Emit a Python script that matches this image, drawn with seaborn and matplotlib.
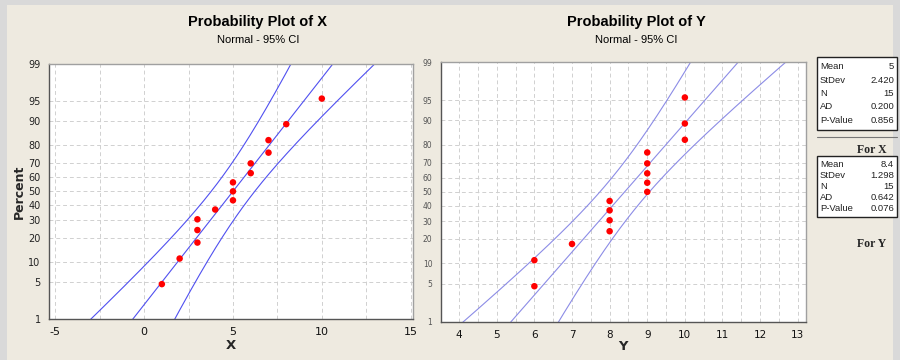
import numpy as np
import pandas as pd
import matplotlib
matplotlib.use("Agg")
import matplotlib.pyplot as plt
import seaborn as sns
from statistics import NormalDist
from matplotlib.patches import Rectangle

# ---------------- data ----------------
x_values = [1, 2, 3, 3, 3, 4, 5, 5, 5, 6, 6, 7, 7, 8, 10]
y_values = [6, 6, 7, 8, 8, 8, 8, 9, 9, 9, 9, 9, 10, 10, 10]
pct_ticks = [1, 5, 10, 20, 30, 40, 50, 60, 70, 80, 90, 95, 99]
x_ticks = [-5, 0, 5, 10, 15]
y_ticks = [4, 5, 6, 7, 8, 9, 10, 11, 12, 13]
stats_x = [("Mean", "5"), ("StDev", "2.420"), ("N", "15"), ("AD", "0.200"), ("P-Value", "0.856")]
stats_y = [("Mean", "8.4"), ("StDev", "1.298"), ("N", "15"), ("AD", "0.642"), ("P-Value", "0.076")]

nd = NormalDist()

def zq(p):
    return nd.inv_cdf(p / 100.0)

def prob_frames(vals):
    v = np.sort(np.asarray(vals, dtype=float))
    n = len(v)
    ranks = (np.arange(1, n + 1) - 0.3) / (n + 0.4) * 100
    pts = pd.DataFrame({"value": v, "z": [zq(r) for r in ranks]})
    m, s = v.mean(), v.std(ddof=1)
    zz = np.linspace(zq(0.5), zq(99.5), 200)
    half = 1.96 * s * np.sqrt(1.0 / n + zz ** 2 / (2 * n))
    fit = m + s * zz
    lines = pd.concat([
        pd.DataFrame({"value": fit, "z": zz, "kind": "fit"}),
        pd.DataFrame({"value": fit - half, "z": zz, "kind": "lo"}),
        pd.DataFrame({"value": fit + half, "z": zz, "kind": "hi"}),
    ])
    return pts, lines

sns.set_style("white")
plt.rcParams["font.family"] = ["DejaVu Sans"]

BG = "#EEEAE0"
fig = plt.figure(figsize=(9, 3.6), dpi=100, facecolor="#D9D9D9")
fig.patches.append(Rectangle((7 / 900, 0), (893 - 7) / 900, 1 - 5 / 360,
                             transform=fig.transFigure, facecolor=BG, edgecolor="none", zorder=-10))

def draw(ax, vals, xlim, xticks, minor_step, line_color, ytick_fs, ytick_color, xtick_fs):
    pts, lines = prob_frames(vals)
    ax.set_facecolor("white")
    for k in ["lo", "fit", "hi"]:
        sns.lineplot(data=lines[lines.kind == k], x="value", y="z", sort=False,
                     color=line_color, lw=0.8, ax=ax, legend=False, estimator=None)
    sns.scatterplot(data=pts, x="value", y="z", color="red", s=22, edgecolor="none",
                    ax=ax, zorder=5, legend=False)
    ax.set_xlim(*xlim)
    ax.set_ylim(zq(1), zq(99))
    ax.set_yticks([zq(p) for p in pct_ticks])
    ax.set_yticklabels([str(p) for p in pct_ticks], fontsize=ytick_fs, color=ytick_color)
    ax.set_xticks(xticks)
    ax.set_xticklabels([str(t) for t in xticks], fontsize=xtick_fs, color="#111111")
    ax.set_xticks(np.arange(xticks[0], xticks[-1] + 1e-9, minor_step), minor=True)
    ax.grid(True, which="both", axis="x", ls=(0, (4, 3)), color="#D0D0D0", lw=0.7)
    ax.grid(True, which="major", axis="y", ls=(0, (4, 3)), color="#D0D0D0", lw=0.7)
    ax.tick_params(axis="both", which="major", direction="out", length=4, width=0.8,
                   color="#555555", pad=2)
    ax.tick_params(axis="x", which="minor", length=0)
    for side in ["left", "bottom"]:
        ax.spines[side].set_color("#555555")
        ax.spines[side].set_linewidth(1.0)
    for side in ["top", "right"]:
        ax.spines[side].set_color("#A0A0A0")
        ax.spines[side].set_linewidth(1.0)
    ax.set_ylabel("")
    ax.set_xlabel("")

ax1 = fig.add_axes([49 / 900, 1 - 319 / 360, 364 / 900, (319 - 63.7) / 360])
draw(ax1, x_values, (-5.35, 15.13), x_ticks, 2.5, "#5050F0", 7, "#222222", 8)
ax1.set_xlabel("X", fontsize=9.5, fontweight="bold", labelpad=1)
ax1.set_ylabel("Percent", fontsize=9, fontweight="bold")
ax1.yaxis.set_label_coords(-23 / 364, 0.5)

ax2 = fig.add_axes([440.7 / 900, 1 - 321.7 / 360, 365.3 / 900, 259.7 / 360])
draw(ax2, y_values, (3.51, 13.22), y_ticks, 0.5, "#8C8CE6", 5.5, "#555555", 7.5)
ax2.set_xlabel("Y", fontsize=9.5, fontweight="bold", labelpad=0)

# titles
fig.text(258 / 900, 1 - 22 / 360, "Probability Plot of X", ha="center", va="center",
         fontsize=10.5, fontweight="bold", family="Liberation Sans", color="black")
fig.text(258 / 900, 1 - 40 / 360, "Normal - 95% CI", ha="center", va="center",
         fontsize=8, family="Liberation Sans", color="black")
fig.text(636 / 900, 1 - 22 / 360, "Probability Plot of Y", ha="center", va="center",
         fontsize=10.5, fontweight="bold", family="Liberation Sans", color="black")
fig.text(636 / 900, 1 - 40 / 360, "Normal - 95% CI", ha="center", va="center",
         fontsize=8, family="Liberation Sans", color="black")

def stat_box(x0, y0, x1, y1, rows):
    fig.patches.append(Rectangle((x0 / 900, 1 - y1 / 360), (x1 - x0) / 900, (y1 - y0) / 360,
                                 transform=fig.transFigure, facecolor="white",
                                 edgecolor="#222222", lw=1.0, zorder=5))
    step = (y1 - y0 - 6) / len(rows)
    for i, (k, v) in enumerate(rows):
        yy = y0 + 3 + step * (i + 0.5)
        fig.text((x0 + 3) / 900, 1 - yy / 360, k, ha="left", va="center", fontsize=6.8,
                 family="Liberation Sans", color="#222222", zorder=6)
        fig.text((x1 - 3) / 900, 1 - yy / 360, v, ha="right", va="center", fontsize=6.8,
                 family="Liberation Sans", color="#222222", zorder=6)

stat_box(817, 57, 897, 130, stats_x)
fig.lines.append(plt.Line2D([817 / 900, 897 / 900], [1 - 137 / 360, 1 - 137 / 360],
                            transform=fig.transFigure, color="#777777", lw=0.8))
fig.text(872 / 900, 1 - 150 / 360, "For X", ha="center", va="center", fontsize=8.5,
         fontweight="bold", family="Liberation Serif")
stat_box(817, 156, 897, 217, stats_y)
fig.text(872 / 900, 1 - 244 / 360, "For Y", ha="center", va="center", fontsize=8.5,
         fontweight="bold", family="Liberation Serif")

fig.savefig("out.png", dpi=100, facecolor=fig.get_facecolor())
